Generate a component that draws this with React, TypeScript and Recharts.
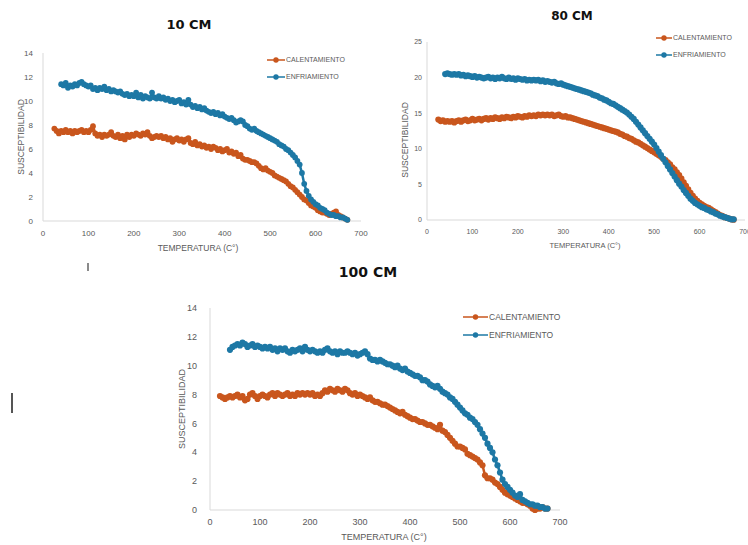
import { LineChart, Line, XAxis, YAxis, Legend } from 'recharts';

const ORANGE = '#C9561D';
const BLUE = '#1D78A5';
const AXIS = '#d9d9d9';
const GREY = '#595959';
const FONT = '"Liberation Sans", Arial, sans-serif';

const SERIES_NAMES = ['CALENTAMIENTO', 'ENFRIAMIENTO'];
const X_TICKS = [0, 100, 200, 300, 400, 500, 600, 700];
const Y_TICKS_14 = [0, 2, 4, 6, 8, 10, 12, 14];
const Y_TICKS_25 = [0, 5, 10, 15, 20, 25];

// temperatures (°C) of the readings, every 5 degrees
const TEMPS = [
  20, 25, 30, 35, 40, 45, 50, 55, 60, 65, 70, 75, 80, 85, 90, 95, 100, 105, 110, 115,
  120, 125, 130, 135, 140, 145, 150, 155, 160, 165, 170, 175, 180, 185, 190, 195, 200, 205, 210, 215,
  220, 225, 230, 235, 240, 245, 250, 255, 260, 265, 270, 275, 280, 285, 290, 295, 300, 305, 310, 315,
  320, 325, 330, 335, 340, 345, 350, 355, 360, 365, 370, 375, 380, 385, 390, 395, 400, 405, 410, 415,
  420, 425, 430, 435, 440, 445, 450, 455, 460, 465, 470, 475, 480, 485, 490, 495, 500, 505, 510, 515,
  520, 525, 530, 535, 540, 545, 550, 555, 560, 565, 570, 575, 580, 585, 590, 595, 600, 605, 610, 615,
  620, 625, 630, 635, 640, 645, 650, 655, 660, 665, 670, 675,
];

// 10 CM
const CAL_10_START = 25;
const CAL_10 = [
  7.7, 7.5, 7.3, 7.5, 7.4, 7.6, 7.4, 7.5, 7.3, 7.5, 7.4, 7.5, 7.6, 7.4, 7.5, 7.4, 7.6, 7.9, 7.3, 7.1,
  7.2, 7.0, 7.2, 7.1, 7.2, 7.4, 7.1, 7.0, 7.2, 6.9, 7.1, 6.8, 7.2, 7.0, 7.2, 7.1, 7.3, 7.2, 7.1, 7.3,
  7.2, 7.4, 7.1, 6.9, 7.0, 7.1, 7.0, 7.1, 6.9, 7.0, 6.8, 6.9, 6.6, 6.8, 6.9, 6.7, 6.8, 6.6, 6.8, 6.9,
  6.5, 6.4, 6.6, 6.3, 6.4, 6.2, 6.3, 6.1, 6.2, 6.0, 6.2, 6.1, 5.9, 6.0, 5.8, 5.9, 6.0, 5.7, 5.8, 5.6,
  5.7, 5.4, 5.5, 5.2, 5.1, 5.1, 5.0, 4.9, 4.9, 4.8, 4.6, 4.4, 4.3, 4.4, 4.2, 4.1, 4.0, 3.8, 3.7, 3.6,
  3.5, 3.4, 3.3, 3.1, 2.9, 2.8, 2.6, 2.4, 2.2, 2.0, 1.8, 1.7, 1.5, 1.3, 1.2, 1.1, 0.9, 0.8, 0.7, 0.7,
  0.6, 0.5, 0.6, 0.7, 0.8, 0.5, 0.4, 0.3, 0.2, 0.1,
];
const ENF_10_START = 40;
const ENF_10 = [
  11.4, 11.3, 11.5, 11.1, 11.3, 11.2, 11.4, 11.3, 11.5, 11.6, 11.4, 11.3, 11.2, 11.3, 11.0, 11.1, 10.9, 11.1, 11.0, 11.2,
  10.9, 11.0, 10.8, 10.9, 10.8, 10.7, 10.8, 10.6, 10.5, 10.6, 10.4, 10.5, 10.4, 10.7, 10.3, 10.5, 10.2, 10.4, 10.3, 10.2,
  10.7, 10.3, 10.2, 10.4, 10.2, 10.3, 10.1, 10.2, 10.0, 10.1, 9.9, 10.0, 10.1, 9.8, 9.9, 9.7, 10.1, 9.7, 9.5, 9.6,
  9.4, 9.5, 9.3, 9.4, 9.2, 9.1, 9.0, 9.1, 8.9, 9.0, 8.8, 8.9, 8.7, 8.6, 8.5, 8.6, 8.4, 8.2, 8.3, 8.4,
  8.3, 8.0, 7.9, 7.7, 7.6, 7.7, 7.5, 7.4, 7.3, 7.2, 7.1, 7.0, 6.9, 6.8, 6.7, 6.6, 6.4, 6.3, 6.2, 6.0,
  5.9, 5.7, 5.5, 5.3, 5.0, 4.7, 4.0, 3.1, 2.5, 2.1, 1.8, 1.6, 1.4, 1.3, 1.1, 1.0, 0.9, 0.7, 0.6, 0.5,
  0.5, 0.4, 0.4, 0.3, 0.3, 0.2, 0.1,
];

// 80 CM
const CAL_80_START = 25;
const CAL_80 = [
  14.1, 13.9, 14.0, 13.8, 13.9, 13.8, 13.9, 13.7, 13.9, 14.0, 13.8, 14.0, 14.1, 13.9, 14.0, 14.2, 14.0, 14.1, 14.2, 14.0,
  14.2, 14.3, 14.1, 14.3, 14.2, 14.4, 14.3, 14.2, 14.4, 14.3, 14.5, 14.4, 14.3, 14.5, 14.4, 14.6, 14.5, 14.4, 14.6, 14.5,
  14.7, 14.6, 14.7, 14.6, 14.8, 14.7, 14.8, 14.7, 14.8, 14.7, 14.8, 14.6, 14.7, 14.8, 14.6, 14.5, 14.6, 14.4, 14.4, 14.3,
  14.2, 14.1, 14.0, 13.9, 13.8, 13.7, 13.6, 13.5, 13.4, 13.3, 13.2, 13.1, 13.0, 12.9, 12.8, 12.7, 12.6, 12.5, 12.4, 12.3,
  12.1, 12.0, 11.8, 11.7, 11.5, 11.4, 11.2, 11.0, 10.9, 10.7, 10.5, 10.3, 10.1, 9.9, 9.7, 9.5, 9.3, 9.1, 8.9, 8.6,
  8.4, 8.1, 7.8, 7.4, 7.1, 6.7, 6.3, 5.8, 5.3, 4.8, 4.3, 3.8, 3.4, 3.0, 2.7, 2.4, 2.2, 2.0, 1.8, 1.7,
  1.5, 1.3, 1.1, 0.9, 0.7, 0.6, 0.4, 0.3, 0.2, 0.1, 0.05,
];
const ENF_80_START = 40;
const ENF_80 = [
  20.5, 20.6, 20.5, 20.4, 20.5, 20.4, 20.5, 20.3, 20.4, 20.2, 20.3, 20.2, 20.1, 20.2, 20.0, 20.1, 20.0, 19.9, 20.0, 20.1,
  19.9, 20.0, 19.8, 20.0, 19.9, 20.1, 19.9, 19.8, 20.0, 19.8, 19.9, 19.7, 19.9, 19.8, 19.7, 19.8, 19.6, 19.7, 19.6, 19.7,
  19.6, 19.7, 19.5, 19.6, 19.4, 19.5, 19.4, 19.3, 19.4, 19.2, 19.1, 19.2, 19.0, 18.9, 18.8, 18.7, 18.6, 18.5, 18.4, 18.3,
  18.2, 18.1, 18.0, 17.9, 17.8, 17.6, 17.5, 17.4, 17.2, 17.1, 16.9, 16.8, 16.6, 16.4, 16.3, 16.1, 15.9, 15.7, 15.5, 15.3,
  15.1, 14.8, 14.5, 14.2, 13.8, 13.4, 13.0, 12.6, 12.2, 11.8, 11.4, 11.0, 10.6, 10.1, 9.6, 9.1, 8.6, 8.1, 7.6, 7.1,
  6.6, 6.1, 5.6, 5.1, 4.7, 4.2, 3.8, 3.4, 3.0, 2.7, 2.4, 2.2, 2.0, 1.8, 1.7, 1.5, 1.4, 1.2, 1.1, 0.9,
  0.8, 0.6, 0.5, 0.4, 0.3, 0.2, 0.1, 0.1,
];

// 100 CM
const CAL_100_START = 20;
const CAL_100 = [
  7.9, 7.8, 7.7, 7.8, 7.9, 7.8, 7.9, 8.0, 7.8, 7.9, 7.6, 7.7, 8.0, 8.1, 7.9, 7.7, 7.9, 8.0, 7.9, 7.8,
  8.0, 8.1, 7.9, 8.1, 8.0, 7.9, 8.0, 8.1, 7.9, 8.0, 7.9, 8.1, 8.0, 8.1, 8.0, 8.1, 8.0, 8.1, 7.9, 8.0,
  7.9, 8.1, 8.3, 8.2, 8.4, 8.3, 8.2, 8.4, 8.3, 8.2, 8.4, 8.3, 8.1, 8.0, 8.1, 7.9, 8.0, 7.9, 7.8, 7.7,
  7.8, 7.6, 7.5, 7.5, 7.4, 7.3, 7.3, 7.2, 7.1, 7.0, 6.9, 6.8, 6.7, 6.8, 6.6, 6.5, 6.4, 6.3, 6.3, 6.2,
  6.1, 6.1, 6.0, 5.9, 5.9, 5.8, 5.7, 5.6, 5.9, 5.5, 5.4, 5.2, 5.0, 4.8, 4.6, 4.4, 4.4, 4.3, 4.2, 3.9,
  3.8, 3.7, 3.6, 3.5, 3.3, 3.1, 2.4, 2.2, 2.2, 2.1, 1.9, 1.8, 1.6, 1.4, 1.2, 1.1, 1.0, 0.9, 0.8, 0.7,
  0.6, 0.5, 0.5, 0.4, 0.3, 0.1, 0.0, 0.1, 0.1, 0.2, 0.1, 0.1,
];
const ENF_100_START = 40;
const ENF_100 = [
  11.1, 11.3, 11.4, 11.5, 11.4, 11.6, 11.5, 11.3, 11.4, 11.5, 11.3, 11.4, 11.3, 11.2, 11.3, 11.2, 11.3, 11.1, 11.2, 11.0,
  11.2, 11.1, 11.2, 11.0, 10.9, 11.1, 11.0, 11.1, 11.2, 11.0, 11.3, 11.1, 11.0, 11.1, 11.0, 10.9, 11.0, 10.9, 11.1, 11.2,
  11.0, 10.9, 11.0, 10.8, 11.0, 10.9, 10.9, 11.0, 10.9, 10.8, 10.9, 10.7, 10.8, 10.9, 11.0, 10.8, 10.5, 10.4, 10.4, 10.3,
  10.4, 10.3, 10.2, 10.1, 10.1, 10.0, 9.9, 10.0, 9.8, 9.7, 9.8, 9.6, 9.5, 9.4, 9.3, 9.3, 9.2, 9.0, 9.0, 8.9,
  8.7, 8.6, 8.5, 8.6, 8.4, 8.2, 8.1, 8.0, 7.8, 7.7, 7.5, 7.3, 7.1, 6.9, 6.7, 6.6, 6.4, 6.3, 6.1, 5.9,
  5.6, 5.3, 5.0, 4.6, 4.3, 4.0, 3.5, 3.1, 2.6, 2.1, 1.8, 1.6, 1.4, 1.2, 1.0, 0.9, 1.1, 0.7, 0.6, 0.5,
  0.4, 0.4, 0.3, 0.3, 0.2, 0.2, 0.1, 0.1,
];

type Pt = { t: number; v: number };

function toPoints(start: number, values: number[]): Pt[] {
  const i0 = TEMPS.indexOf(start);
  return values.map((v, i) => ({ t: TEMPS[i0 + i], v }));
}

function LegendBox({ fontSize, row, lineW }: { fontSize: number; row: number; lineW: number }) {
  return (
    <div style={{ fontFamily: FONT, fontSize, color: GREY }}>
      {SERIES_NAMES.map((name, i) => {
        const c = i === 0 ? ORANGE : BLUE;
        return (
          <div key={name} style={{ display: 'flex', alignItems: 'center', height: row }}>
            <svg width={lineW} height={8}>
              <line x1={0} y1={4} x2={lineW} y2={4} stroke={c} strokeWidth={1.5} />
              <circle cx={lineW / 2} cy={4} r={2.7} fill={c} />
            </svg>
            <span style={{ marginLeft: 1, whiteSpace: 'nowrap' }}>{name}</span>
          </div>
        );
      })}
    </div>
  );
}

interface PanelProps {
  left: number;
  top: number;
  width: number;
  height: number;
  margin: { top: number; right: number; bottom: number; left: number };
  xAxisHeight: number;
  yMax: number;
  yTicks: number[];
  font: number;
  yTickSize: number;
  yTickMargin: number;
  legendLeft: number;
  legendTop: number;
  legendFont: number;
  legendRow: number;
  legendLine: number;
  dot: number;
  cal: Pt[];
  enf: Pt[];
}

function Panel(p: PanelProps) {
  const tick = { fontSize: p.font, fill: GREY, fontFamily: FONT };
  return (
    <div style={{ position: 'absolute', left: p.left, top: p.top }}>
      <LineChart width={p.width} height={p.height} margin={p.margin}>
        <XAxis
          type="number"
          dataKey="t"
          domain={[0, 700]}
          ticks={X_TICKS}
          interval={0}
          height={p.xAxisHeight}
          tick={tick}
          tickLine={false}
          tickMargin={3}
          axisLine={{ stroke: AXIS }}
        />
        <YAxis
          type="number"
          dataKey="v"
          domain={[0, p.yMax]}
          ticks={p.yTicks}
          interval={0}
          width={30}
          tick={tick}
          tickLine={false}
          tickSize={p.yTickSize}
          tickMargin={p.yTickMargin}
          axisLine={{ stroke: AXIS }}
        />
        <Legend
          layout="vertical"
          align="center"
          verticalAlign="middle"
          wrapperStyle={{ left: p.legendLeft, top: p.legendTop, width: 'auto', height: 'auto' }}
          content={() => <LegendBox fontSize={p.legendFont} row={p.legendRow} lineW={p.legendLine} />}
        />
        <Line
          data={p.cal}
          dataKey="v"
          name={SERIES_NAMES[0]}
          type="linear"
          stroke={ORANGE}
          strokeWidth={2.5}
          dot={{ r: p.dot, fill: ORANGE, stroke: 'none' }}
          activeDot={false}
          isAnimationActive={false}
        />
        <Line
          data={p.enf}
          dataKey="v"
          name={SERIES_NAMES[1]}
          type="linear"
          stroke={BLUE}
          strokeWidth={2.5}
          dot={{ r: p.dot, fill: BLUE, stroke: 'none' }}
          activeDot={false}
          isAnimationActive={false}
        />
      </LineChart>
    </div>
  );
}

function Txt({ x, y, size, bold, rotate, children }: { x: number; y: number; size: number; bold?: boolean; rotate?: boolean; children: string }) {
  return (
    <div
      style={{
        position: 'absolute',
        left: x,
        top: y,
        transform: `translate(-50%, -50%)${rotate ? ' rotate(-90deg)' : ''}`,
        fontSize: size,
        fontWeight: bold ? 700 : 400,
        fontFamily: bold ? '"DejaVu Sans", sans-serif' : FONT,
        color: bold ? '#111' : GREY,
        whiteSpace: 'nowrap',
        lineHeight: 1,
      }}
    >
      {children}
    </div>
  );
}

export default function App() {
  return (
    <div style={{ position: 'absolute', left: 0, top: 0, width: 748, height: 545, background: '#fff', overflow: 'hidden' }}>
      <style>{'body{margin:0;overflow:hidden}'}</style>

      <Txt x={189} y={24} size={13} bold>10 CM</Txt>
      <Panel
        left={0} top={30} width={370} height={230}
        margin={{ top: 23, right: 9, bottom: 9, left: 13 }}
        xAxisHeight={30} yMax={14} yTicks={Y_TICKS_14} font={8}
        yTickSize={6} yTickMargin={4}
        legendLeft={267} legendTop={21} legendFont={7} legendRow={17} legendLine={18}
        dot={2.9}
        cal={toPoints(CAL_10_START, CAL_10)} enf={toPoints(ENF_10_START, ENF_10)}
      />
      <Txt x={198} y={248} size={8.5}>TEMPERATURA (C°)</Txt>
      <Txt x={21} y={137} size={8.5} rotate>SUSCEPTIBILIDAD</Txt>

      <Txt x={572} y={16} size={12} bold>80 CM</Txt>
      <Panel
        left={370} top={0} width={378} height={260}
        margin={{ top: 42, right: 3, bottom: 10, left: 27 }}
        xAxisHeight={30} yMax={25} yTicks={Y_TICKS_25} font={7}
        yTickSize={2} yTickMargin={3}
        legendLeft={286} legendTop={29} legendFont={7} legendRow={17} legendLine={16}
        dot={3.1}
        cal={toPoints(CAL_80_START, CAL_80)} enf={toPoints(ENF_80_START, ENF_80)}
      />
      <Txt x={585} y={246} size={7.5}>TEMPERATURA (C°)</Txt>
      <Txt x={405} y={140} size={8.5} rotate>SUSCEPTIBILIDAD</Txt>

      <Txt x={368} y={272} size={14} bold>100 CM</Txt>
      <Panel
        left={160} top={260} width={420} height={285}
        margin={{ top: 48, right: 20, bottom: 10, left: 20 }}
        xAxisHeight={25} yMax={14} yTicks={Y_TICKS_14} font={9}
        yTickSize={6} yTickMargin={7}
        legendLeft={303} legendTop={48} legendFont={8.5} legendRow={18} legendLine={25}
        dot={3.1}
        cal={toPoints(CAL_100_START, CAL_100)} enf={toPoints(ENF_100_START, ENF_100)}
      />
      <Txt x={384} y={537} size={9}>TEMPERATURA (C°)</Txt>
      <Txt x={182} y={409} size={9} rotate>SUSCEPTIBILIDAD</Txt>

      <div style={{ position: 'absolute', left: 87, top: 263, width: 1.5, height: 8, background: '#8a8a8a' }} />
      <div style={{ position: 'absolute', left: 11, top: 393, width: 2, height: 20, background: '#555' }} />
    </div>
  );
}
